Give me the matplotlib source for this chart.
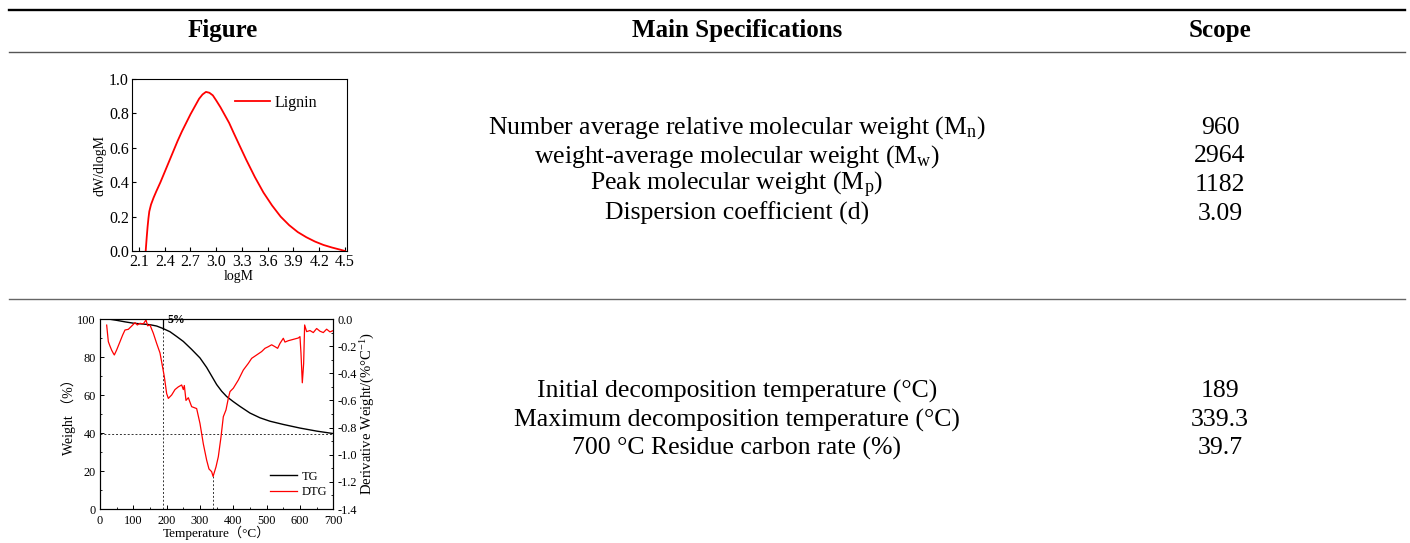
import matplotlib
matplotlib.use("Agg")
import matplotlib.pyplot as plt
from matplotlib.lines import Line2D
from matplotlib import ticker

plt.rcParams["font.family"] = ["Liberation Serif", "Noto Sans CJK SC"]
plt.rcParams["mathtext.fontset"] = "custom"
plt.rcParams["mathtext.rm"] = "Liberation Serif"
plt.rcParams["mathtext.it"] = "Liberation Serif:italic"
plt.rcParams["axes.unicode_minus"] = False

# ---- Table content ----
headers = ["Figure", "Main Specifications", "Scope"]
gpc_specs = [
    r"Number average relative molecular weight (M$_\mathrm{n}$)",
    r"weight-average molecular weight (M$_\mathrm{w}$)",
    r"Peak molecular weight (M$_\mathrm{p}$)",
    "Dispersion coefficient (d)",
]
gpc_values = ["960", "2964", "1182", "3.09"]
tga_specs = [
    "Initial decomposition temperature (°C)",
    "Maximum decomposition temperature (°C)",
    "700 °C Residue carbon rate (%)",
]
tga_values = ["189", "339.3", "39.7"]

# ---- Molecular weight distribution (GPC) ----
log_m = [2.178, 2.19, 2.20, 2.21, 2.22, 2.24, 2.27, 2.30, 2.35, 2.40, 2.45, 2.50,
         2.55, 2.60, 2.65, 2.70, 2.75, 2.80, 2.84, 2.88, 2.92, 2.96, 3.00, 3.05,
         3.10, 3.15, 3.20, 3.27, 3.35, 3.45, 3.55, 3.65, 3.75, 3.85, 3.95, 4.05,
         4.15, 4.25, 4.35, 4.45, 4.50]
dw_dlogm = [0.0, 0.08, 0.14, 0.19, 0.23, 0.27, 0.31, 0.345, 0.40, 0.46, 0.52, 0.58,
            0.64, 0.695, 0.745, 0.795, 0.84, 0.885, 0.91, 0.925, 0.92, 0.905, 0.875,
            0.835, 0.79, 0.745, 0.69, 0.615, 0.53, 0.43, 0.34, 0.265, 0.20, 0.15,
            0.11, 0.08, 0.055, 0.035, 0.02, 0.007, 0.0]

# ---- Thermogravimetric analysis ----
tg_temp = [25, 50, 75, 100, 125, 150, 170, 189, 210, 230, 250, 275, 300, 320, 330,
           340, 350, 365, 380, 400, 420, 450, 480, 510, 550, 600, 650, 700]
tg_weight = [100, 99.3, 98.5, 97.8, 97.4, 97.0, 96.3, 95.0, 93.3, 90.8, 88.2, 84.0,
             79.5, 74.5, 71.5, 68.5, 65.5, 62.0, 59.2, 56.5, 54.0, 50.5, 48.0, 46.2,
             44.5, 42.6, 41.0, 39.7]

dtg_temp = [20, 25, 30, 35, 40, 43, 50, 60, 68, 75, 85, 95, 105, 112, 120, 130, 138,
            143, 150, 160, 170, 180, 186, 193, 200, 205, 215, 225, 235, 245, 250, 253,
            258, 265, 275, 290, 300, 310, 320, 327, 335, 339.3, 348, 355, 363, 370,
            378, 385, 390, 400, 415, 430, 445, 455, 470, 485, 495, 505, 515, 525, 533,
            540, 550, 555, 565, 580, 595, 600, 603, 607, 611, 614, 620, 630, 640, 650,
            660, 670, 680, 690, 700]
dtg_value = [-0.045, -0.167, -0.20, -0.23, -0.253, -0.265, -0.228, -0.167, -0.118,
             -0.081, -0.076, -0.052, -0.027, -0.044, -0.032, -0.036, -0.007, -0.05,
             -0.044, -0.105, -0.18, -0.25, -0.33, -0.425, -0.55, -0.585, -0.56, -0.52,
             -0.50, -0.486, -0.52, -0.49, -0.60, -0.58, -0.646, -0.66, -0.77, -0.92,
             -1.04, -1.105, -1.125, -1.16, -1.09, -1.015, -0.87, -0.72, -0.67, -0.585,
             -0.535, -0.51, -0.45, -0.376, -0.327, -0.29, -0.265, -0.24, -0.216,
             -0.204, -0.19, -0.204, -0.216, -0.18, -0.142, -0.17, -0.16, -0.15, -0.14,
             -0.13, -0.25, -0.47, -0.33, -0.044, -0.093, -0.085, -0.10, -0.07, -0.09,
             -0.10, -0.075, -0.095, -0.085]

onset_temp = 189
onset_weight = 95.0
peak_temp = 339.3
residue = 39.7

W, H = 1410, 543
fig = plt.figure(figsize=(W / 100, H / 100), dpi=100)


def fx(px):
    return px / W


def fy(py):
    return 1 - py / H


# table rules
fig.add_artist(Line2D([fx(9), fx(1405)], [fy(10), fy(10)], color="black", lw=1.7))
fig.add_artist(Line2D([fx(9), fx(1405)], [fy(52), fy(52)], color="#555555", lw=1.0))
fig.add_artist(Line2D([fx(9), fx(1405)], [fy(299), fy(299)], color="#666666", lw=1.0))

col_x = [223, 737, 1220]
for x, h in zip(col_x, headers):
    fig.text(fx(x), fy(31), h, ha="center", va="center", fontsize=18,
             fontweight="bold")

body_size = 18.5
row1_y = [128, 156.5, 185, 213.5]
for y, s, v in zip(row1_y, gpc_specs, gpc_values):
    fig.text(fx(col_x[1]), fy(y), s, ha="center", va="center", fontsize=body_size)
    fig.text(fx(col_x[2]), fy(y), v, ha="center", va="center", fontsize=body_size)

row2_y = [391, 420, 448]
for y, s, v in zip(row2_y, tga_specs, tga_values):
    fig.text(fx(col_x[1]), fy(y), s, ha="center", va="center", fontsize=body_size)
    fig.text(fx(col_x[2]), fy(y), v, ha="center", va="center", fontsize=body_size)

# ---- GPC chart ----
ax1 = fig.add_axes([fx(131.7), fy(251), fx(346.7) - fx(131.7), fy(79) - fy(251)])
ax1.plot(log_m, dw_dlogm, color="red", lw=1.3, label="Lignin")
ax1.set_xlim(2.015, 4.52)
ax1.set_ylim(0, 1.0)
ax1.set_xticks([2.1, 2.4, 2.7, 3.0, 3.3, 3.6, 3.9, 4.2, 4.5])
ax1.set_yticks([0.0, 0.2, 0.4, 0.6, 0.8, 1.0])
ax1.xaxis.set_major_formatter(ticker.FormatStrFormatter("%.1f"))
ax1.yaxis.set_major_formatter(ticker.FormatStrFormatter("%.1f"))
ax1.tick_params(direction="in", length=3, width=0.8, labelsize=11.5, pad=2)
ax1.set_xlabel("logM", fontsize=10, labelpad=0)
ax1.set_ylabel("dW/dlogM", fontsize=10, labelpad=2)
for sp in ax1.spines.values():
    sp.set_linewidth(0.8)
ax1.legend(loc="center left", frameon=False, fontsize=11.5, handlelength=2.2,
           handletextpad=0.3, borderpad=0, borderaxespad=0,
           bbox_to_anchor=(0.48, 0.86))

# ---- TG / DTG chart ----
ax2 = fig.add_axes([fx(100), fy(509), fx(333.3) - fx(100), fy(319) - fy(509)])
ax3 = ax2.twinx()
l_tg, = ax2.plot(tg_temp, tg_weight, color="black", lw=1.0, label="TG")
l_dtg, = ax3.plot(dtg_temp, dtg_value, color="red", lw=0.9, label="DTG")
ax2.set_xlim(0, 700)
ax2.set_ylim(0, 100)
ax3.set_ylim(-1.4, 0.0)
ax2.set_xticks(range(0, 701, 100))
ax2.set_yticks(range(0, 101, 20))
ax3.set_yticks([0.0, -0.2, -0.4, -0.6, -0.8, -1.0, -1.2, -1.4])
ax3.yaxis.set_major_formatter(ticker.FormatStrFormatter("%.1f"))
ax2.xaxis.set_minor_locator(ticker.MultipleLocator(50))
ax2.yaxis.set_minor_locator(ticker.MultipleLocator(10))
ax3.yaxis.set_minor_locator(ticker.MultipleLocator(0.1))
for a in (ax2, ax3):
    a.tick_params(which="major", direction="in", length=3, width=0.7, labelsize=8.8, pad=3)
    a.tick_params(which="minor", direction="in", length=1.5, width=0.6)
    for sp in a.spines.values():
        sp.set_linewidth(0.8)
ax2.tick_params(axis="x", which="major", pad=4)

dash = dict(color="#333333", lw=0.7, ls=(0, (2, 2)))
ax2.plot([onset_temp, onset_temp], [0, onset_weight], **dash)
ax2.plot([onset_temp, onset_temp], [onset_weight, 100], color="black", lw=0.9)
ax2.plot([0, 700], [residue, residue], **dash)
peak_left = 100 * (1 + min(dtg_value) / 1.4)
ax2.plot([peak_temp, peak_temp], [0, peak_left], **dash)
ax2.text(203, 96.5, "5%", fontsize=8.5, fontweight="bold", ha="left", va="bottom")

ax2.set_xlabel("Temperature（°C）", fontsize=9.5, labelpad=-0.5)
ax2.set_ylabel("Weight （%）", fontsize=10, labelpad=1)
ax3.set_ylabel(r"Derivative Weight/(%°C$^{-1}$)", fontsize=10.5, labelpad=1)
ax3.legend([l_tg, l_dtg], ["TG", "DTG"], loc="center left", frameon=False,
           fontsize=9, handlelength=2.15, handletextpad=0.4, borderpad=0,
           borderaxespad=0, labelspacing=0.3, bbox_to_anchor=(0.729, 0.129))

fig.savefig("out.png", dpi=100)
